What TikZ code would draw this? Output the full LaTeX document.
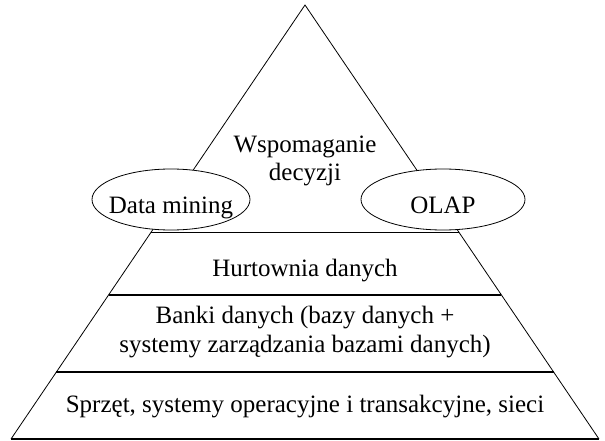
\documentclass[tikz,border=0pt]{standalone}
\usepackage{fontspec}
\setmainfont{Liberation Serif}
\usetikzlibrary{calc}
\begin{document}
\begin{tikzpicture}[x=1pt,y=1pt,
  side/.style={line width=0.8pt, line join=miter},
  level/.style={line width=1.2pt},
  lbl/.style={font=\fontsize{25}{28}\selectfont, align=center, inner sep=0},
  oval/.style={draw, line width=0.8pt, fill=white}]
\useasboundingbox (0,0) rectangle (605,440);
\coordinate (A) at (305,435);
\coordinate (L) at (11,1);
\coordinate (R) at (599,1);
\draw[side] (L) -- (A) -- (R);
\draw[line width=1.4pt] (L) -- (R);
\coordinate (h1l) at ($(A)!0.5242!(L)$);
\coordinate (h1r) at ($(A)!0.5242!(R)$);
\coordinate (h2l) at ($(A)!0.6682!(L)$);
\coordinate (h2r) at ($(A)!0.6682!(R)$);
\coordinate (h3l) at ($(A)!0.8456!(L)$);
\coordinate (h3r) at ($(A)!0.8456!(R)$);
\draw[level] (h1l) -- (h1r);
\draw[level] (h2l) -- (h2r);
\draw[level] (h3l) -- (h3r);
\coordinate (dmc) at (171,240.5);
\coordinate (olc) at (443,240.5);
\path[oval] (dmc) ellipse [x radius=79, y radius=30.5];
\path[oval] (olc) ellipse [x radius=82, y radius=30.5];
\node[lbl, anchor=base] (dec) at (305,260) {Wspomaganie\\decyzji};
\node[lbl, anchor=base] (dm) at (171,227) {Data mining};
\node[lbl, anchor=base] (olap) at (443,227) {OLAP};
\node[lbl, anchor=base] (hd) at (305,164) {Hurtownia danych};
\node[lbl, anchor=base, font=\fontsize{25}{29}\selectfont] (bd) at (305,88) {Banki danych (bazy danych +\\systemy zarządzania bazami danych)};
\node[lbl, anchor=base] (hw) at (305,28) {Sprzęt, systemy operacyjne i transakcyjne, sieci};
\end{tikzpicture}
\end{document}
